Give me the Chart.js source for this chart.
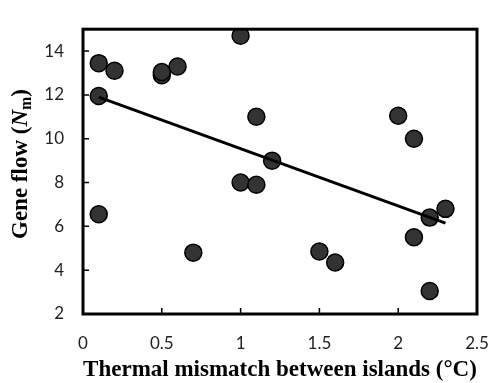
<!DOCTYPE html>
<html>
<head>
<meta charset="utf-8">
<script src="https://cdn.jsdelivr.net/npm/chart.js@4.4.0/dist/chart.umd.min.js"></script>
<style>
  html, body { margin: 0; padding: 0; background: #fff; }
  #wrap { width: 490px; height: 383px; }
</style>
</head>
<body>
<div id="wrap"><canvas id="geneChart" width="490" height="383"></canvas></div>
<script>
// mismatch (°C) and gene flow for each island pair
var mismatch = [0.1, 0.2, 0.1, 0.1, 0.5, 0.5, 0.6, 0.7, 1.0, 1.0, 1.1, 1.1, 1.2, 1.5, 1.6, 2.0, 2.1, 2.1, 2.2, 2.2, 2.3];
var geneFlow = [13.45, 13.1, 11.95, 6.55, 12.9, 13.05, 13.3, 4.8, 14.7, 8.0, 11.0, 7.9, 9.0, 4.85, 4.35, 11.05, 10.0, 5.5, 6.4, 3.05, 6.8];
// fitted line ends
var fitX = [0.1, 2.3];
var fitY = [11.9, 6.15];
var xTicks = [0, 0.5, 1, 1.5, 2, 2.5];
var yTicks = [2, 4, 6, 8, 10, 12, 14];

var points = [];
for (let i = 0; i < mismatch.length; i++) {
	points.push({ x: mismatch[i], y: geneFlow[i] });
}
var fitLine = [];
for (let i = 0; i < fitX.length; i++) {
	fitLine.push({ x: fitX[i], y: fitY[i] });
}

// frame round the plot, inward tick marks and the y title with italic N and subscript m
var framePlugin = {
	id: 'frame',
	afterDraw: function(chart) {
		var ctx = chart.ctx;
		var a = chart.chartArea;
		var xs = chart.scales.x;
		var ys = chart.scales.y;
		ctx.save();
		ctx.strokeStyle = '#000';
		ctx.lineWidth = 3;
		ctx.strokeRect(a.left, a.top, a.right - a.left, a.bottom - a.top);
		ctx.lineWidth = 1.5;
		ctx.beginPath();
		for (let t of xTicks) {
			var px = xs.getPixelForValue(t);
			ctx.moveTo(px, a.bottom);
			ctx.lineTo(px, a.bottom - 6);
		}
		for (let t of yTicks) {
			var py = ys.getPixelForValue(t);
			ctx.moveTo(a.left, py);
			ctx.lineTo(a.left + 6, py);
		}
		ctx.stroke();

		// y axis title
		ctx.translate(21, 164);
		ctx.rotate(-Math.PI / 2);
		ctx.fillStyle = '#000';
		ctx.textBaseline = 'middle';
		var f1 = 'bold 23px "Liberation Serif", "Times New Roman", serif';
		var f2 = 'italic bold 23px "Liberation Serif", "Times New Roman", serif';
		var f3 = 'bold 16px "Liberation Serif", "Times New Roman", serif';
		var parts = [
			{ t: 'Gene flow (', f: f1, dy: 0 },
			{ t: 'N', f: f2, dy: 0 },
			{ t: 'm', f: f3, dy: 6 },
			{ t: ')', f: f1, dy: 0 }
		];
		var total = 0;
		for (let p of parts) {
			ctx.font = p.f;
			p.w = ctx.measureText(p.t).width;
			total += p.w;
		}
		var x0 = -total / 2;
		for (let p of parts) {
			ctx.font = p.f;
			ctx.fillText(p.t, x0, p.dy);
			x0 += p.w;
		}
		ctx.restore();
	}
};

const gc = document.getElementById('geneChart');
var geneChart = new Chart(gc, {
	type: 'scatter',
	data: {
		datasets: [
			{
				type: 'line',
				label: 'fit',
				data: fitLine,
				borderColor: '#000',
				borderWidth: 3,
				pointRadius: 0,
				fill: false
			},
			{
				label: 'islands',
				data: points,
				backgroundColor: '#333333',
				borderColor: '#000',
				borderWidth: 1.5,
				pointRadius: 8.5
			}
		]
	},
	plugins: [framePlugin],
	options: {
		responsive: false,
		animation: false,
		layout: {
			padding: { left: 0, top: 12, right: 0, bottom: 0 }
		},
		plugins: {
			legend: { display: false },
			tooltip: { enabled: false }
		},
		scales: {
			x: {
				type: 'linear',
				min: 0,
				max: 2.5,
				afterFit: function(s) { s.height = 69; s.paddingRight = 13; },
				afterBuildTicks: function(s) { s.ticks = xTicks.map(function(v) { return { value: v }; }); },
				grid: { display: true, drawOnChartArea: false, drawTicks: false },
				border: { display: false },
				ticks: {
					padding: 19,
					color: '#222',
					font: { family: 'Lato, "Liberation Sans", sans-serif', size: 17 },
					callback: function(v) { return String(v); }
				},
				title: {
					display: true,
					text: 'Thermal mismatch between islands (°C)',
					color: '#000',
					padding: { top: 0, bottom: 1 },
					font: { family: '"Liberation Serif", "Times New Roman", serif', size: 23, weight: 'bold', lineHeight: 1 }
				}
			},
			y: {
				type: 'linear',
				min: 2,
				max: 15,
				afterFit: function(s) { s.width = 83; },
				afterBuildTicks: function(s) { s.ticks = yTicks.map(function(v) { return { value: v }; }); },
				grid: { display: true, drawOnChartArea: false, drawTicks: false },
				border: { display: false },
				ticks: {
					padding: 19,
					color: '#222',
					font: { family: 'Lato, "Liberation Sans", sans-serif', size: 17 }
				}
			}
		}
	}
});
</script>
</body>
</html>
